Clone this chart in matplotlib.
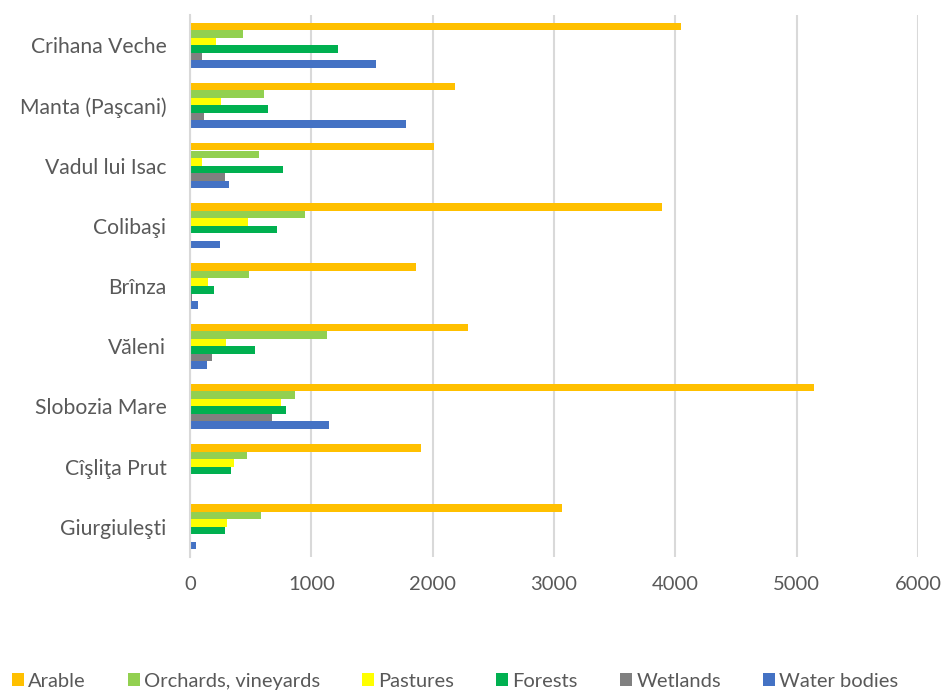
import matplotlib.pyplot as plt
import numpy as np

plt.rcParams['font.family'] = ['Lato', 'DejaVu Sans']

villages = ["Crihana Veche", "Manta (Paşcani)", "Vadul lui Isac", "Colibaşi", "Brînza",
            "Văleni", "Slobozia Mare", "Cîşliţa Prut", "Giurgiuleşti"]

arable = [4044, 2183, 2015, 3894, 1862, 2294, 5143, 1906, 3069]
orchards = [433, 613, 571, 948, 489, 1125, 863, 471, 586]
pastures = [212, 259, 97, 474, 150, 300, 748, 359, 306]
forests = [1219, 639, 766, 719, 197, 536, 795, 342, 289]
wetlands = [97, 118, 286, 10, 20, 183, 677, 0, 6]
water = [1529, 1782, 324, 250, 68, 138, 1149, 10, 47]

series = [arable, orchards, pastures, forests, wetlands, water]
names = ["Arable", "Orchards, vineyards", "Pastures", "Forests", "Wetlands", "Water bodies"]
colors = ["#FFC000", "#92D050", "#FFFF00", "#00B050", "#808080", "#4472C4"]

fig = plt.figure(figsize=(9.44, 6.94), dpi=100)
ax = fig.add_axes([190/944, 1-557/694, (918-190)/944, (557-15)/694])

h = 0.125
y = np.arange(len(villages))
for j, (vals, nm, c) in enumerate(zip(series, names, colors)):
    ax.barh(y + (j - 2.5) * h, vals, height=h, color=c, label=nm)

ax.set_ylim(len(villages) - 0.5, -0.5)
ax.set_xlim(0, 6000)
ax.set_xticks(range(0, 6001, 1000))
ax.set_yticks(y)
ax.set_yticklabels(villages)
ax.tick_params(axis='both', length=0, labelsize=14.5, labelcolor='#595959')
ax.tick_params(axis='y', pad=17, labelsize=15.2)
ax.tick_params(axis='x', pad=14)
ax.grid(axis='x', color='#d9d9d9', lw=1.5)
ax.set_axisbelow(True)
for s in ['top', 'right', 'bottom']:
    ax.spines[s].set_visible(False)
ax.spines['left'].set_color('#d9d9d9')
ax.spines['left'].set_linewidth(1.5)

leg = fig.legend(loc='lower center', bbox_to_anchor=(0.482, -0.02), ncol=6, frameon=False,
                 fontsize=14.5, handlelength=0.6, handleheight=0.6, handletextpad=0.2,
                 columnspacing=2.1)
for t in leg.get_texts():
    t.set_color('#595959')

fig.savefig("out.png", dpi=100)
